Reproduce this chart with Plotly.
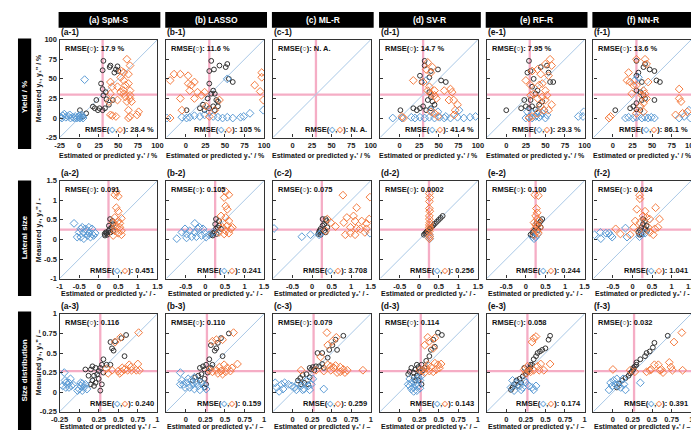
import plotly.graph_objects as go

# ---------------- data ----------------
# Row 1: yield (%)
A1_BLK_X = [31, 40, 49, 30, 28, 39, 45, 47, 50, 22, 30, 34, 31, 35, 38, 43, 20, 24, 26, 30, 33, 1, 5, 9, 17.5]
A1_BLK_Y = [73, 67, 66, 61, 44, 65, 58, 62, 60, 23, 37, 33, 29, 24, 17, 23, 12.5, 10, 12.5, 10, 12.5, 10, 2, 6, 14.6]
A1_BLU_X = [-24, -21, -19, -17, -14, -11, -8, -5, -3, -1, 0, 1, 2, 4, 5, 7, -22, -12, -6, 3]
A1_BLU_Y = [1, 3, 5, 1, 2, 0, 1, 2, 0, 1, 3, 0, 1, 2, 0, 49, 0, 4, 0, 4]
A1_ORG_X = [61, 54, 57, 63, 65, 40, 42, 40, 38, 57, 57, 57, 59, 63, 65, 65, 65, 67, 63, 63, 65, 76, 74, 47, 42.5, 40, 49, 53, 59, 61, 49, 53]
A1_ORG_Y = [75, 60, 58, 56, 67, 46, 40, 31, 21, 48, 35, 31, 42, 44, 35, 29, 25, 21, 10, 0, 2, 8, 4, 2, 3, 4, 40, 33, 27, 21, 23, 52]

B1_BLK_X = [32.5, 30, 36, 43, 51, 53, 55, 60, 30, 35, 32.5, 37, 28, 39, 41, 18, 24, 30, 35, 37, 1, 41, 22]
B1_BLK_Y = [73, 60, 62, 67, 65, 69, 50, 46, 44, 35, 31, 31, 25, 23, 21, 12.5, 10, 12.5, 15, 10, 10, 15, 17]
B1_BLU_X = [-24, -5, 1, 5, 11, 18, 24, 35, 41, 47, 53, 60, 70, 74, 82, 30, 53, 99]
B1_BLU_Y = [0, 1, 0, 1, 3, 2, 4, 2, 1, 0, 1, 0, 1, 2, 6, 8, 50, 10]
B1_ORG_X = [-20, -15, -7, 3, 3, 7, 5, 11, 15, 20, 24, 11, 26, 30, -7, -5, -20, 43, 37, 97, 97, 88, 95, 99]
B1_ORG_Y = [48, 56, 56, 54, 44, 42, 35, 25, 33, 29, 33, 46, 15, 2, 25, 10, 0, 23, 10, 58, 52, 42, 34, 23]

C1_BLK_X, C1_BLK_Y, C1_BLU_X, C1_BLU_Y, C1_ORG_X, C1_ORG_Y = [], [], [], [], [], []

D1_BLK_X = [32, 32, 40, 49, 53, 59, 26, 28, 38, 40, 36, 42, 30, 26, 22, 17.5, 1, 34, 40, 44.6, 38]
D1_BLK_Y = [73, 67, 60, 62, 48, 46, 54, 46, 52, 27, 23, 21, 15, 12.5, 10, 12.5, 10, 10, 12.5, 17, 33]
D1_BLU_X = [-8.75, 3, 15, 19.6, 26, 32, 38, 44.6, 51, 57, 65, 74, 82, 90, 97, 76, 40, 34, 49, 59]
D1_BLU_Y = [0, 0, 1, 0, 1, 0, 1, 0, 1, 0, 0, 1, 0, 1, 2, 10, 10, 48, 8, 2]
D1_ORG_X = [17.5, 30, 34, 36, 40, 42, 38, 36, 40, 44.6, 47, 44.6, 65, 67, 63, 69, 74, 71, 49, 44.6, 40, 5, 3, 69.6, 57]
D1_ORG_Y = [48, 46, 62, 71, 58, 65, 40, 35, 31, 29, 25, 35, 37, 33, 23, 23, 17, 10, 2, 6, 8, 0, 2, 4, 35]

E1_BLK_X = [29, 27, 31, 44, 52, 54, 56, 60, 35, 33, 40, 37.5, 31, 23, 25, 29, 33, 37.5, 19, 0, 42, 46]
E1_BLK_Y = [73, 58, 60, 65, 67, 58, 46, 46, 50, 40, 35, 31, 23, 23, 15, 12.5, 15, 11, 12.5, 10, 17, 21]
E1_BLU_X = [25, 29, 33, 37.5, 42, 44, 46, 50, 48, 40, 33, 27, 52, 99, 98, 92]
E1_BLU_Y = [0, 1, 0, 2, 1, 3, 6, 0, 10, 8, 6, 8, 4, 8, 2, 2]
E1_ORG_X = [56, 50, 58, 54, 44, 40, 33, 25, 31, 35, 42, 46, 50, 52, 46, 40, 44, 48, 40, 33, 29, 54, 58, 50, 31]
E1_ORG_Y = [75, 69, 67, 54, 56, 62, 60, 48, 42, 31, 42, 44, 35, 29, 27, 25, 15, 10, 6, 2, 0, 10, 17, 23, 29]

F1_BLK_X = [30, 41, 39, 47, 53, 55.6, 60, 32.5, 30, 37, 30, 35, 39, 41, 37, 30, 26, 22, 30, 35, 3, 53]
F1_BLK_Y = [73, 69, 65, 62, 60, 48, 46, 58, 54, 46, 35, 33, 29, 25, 23, 19, 15, 12.5, 11, 10, 10, 23]
F1_BLU_X = [16, 20, 26, 30, 37, 41, 45, 49, 53, 84.6, 91, 99, 97, 32.5, 28]
F1_BLU_Y = [0, 1, 0, 1, 0, 1, 0, 1, 0, 0, 2, 0, 10, 52, 48]
F1_ORG_X = [30, 41, 43, 20, 18, 22, 26, 30, 39, 41, 37, 43, 39, 35, 30, -5, -3, 84.6, 84.6, 87, 80, 89, 95, 39, 24, 45]
F1_ORG_Y = [75, 75, 69, 58, 48, 46, 42, 42, 35, 31, 29, 25, 19, 15, 6, 0, 2, 37, 25, 21, 4, 6, 8, 8, 31, 46]

# Row 2: lateral size
A2_BLK_X = [0.16, 0.2, 0.25, 0.29, 0.33, 0.35, 0.29, 0.37, 0.22, 0.18, 0.3, 0.26, 0.37, 0.15]
A2_BLK_Y = [0.1, 0.16, 0.22, 0.27, 0.31, 0.47, 0.52, 0.39, 0.12, 0.18, 0.18, 0.35, 0.22, 0.14]
A2_BLU_X = [-0.63, -0.5, -0.42, -0.34, -0.25, -0.17, -0.46, -0.38, -0.29, -0.21, -0.13, -0.55, -0.38, -0.25, -0.09, -0.29, -0.46, -0.17]
A2_BLU_Y = [0.41, 0.18, 0.31, 0.27, 0.31, 0.27, 0.06, 0.02, 0.1, 0.06, 0.1, 0.06, 0.18, 0.16, 0.16, 0.22, 0.27, 0.14]
A2_ORG_X = [0.41, 0.5, 0.45, 0.45, 0.5, 0.41, 0.5, 0.37, 0.45, 0.54, 0.58, 0.41, 0.5, 0.58, 0.37, 0.41, 0.54, 0.58]
A2_ORG_Y = [1.14, 1.1, 1.22, 0.81, 0.72, 0.56, 0.47, 0.43, 0.35, 0.31, 0.22, 0.22, 0.16, 0.12, 0.1, 0.31, 0.41, 0.54]

B2_BLK_X = [0.19, 0.23, 0.27, 0.31, 0.27, 0.35, 0.35, 0.19, 0.29, 0.4, 0.15, 0.25]
B2_BLK_Y = [0.1, 0.18, 0.27, 0.31, 0.52, 0.47, 0.35, 0.16, 0.14, 0.27, 0.12, 0.39]
B2_BLU_X = [-0.73, -0.6, -0.48, -0.52, -0.27, -0.4, -0.27, -0.19, -0.15, -0.1, -0.23, 0.02, 0.1, -0.02, -0.35, -0.48, -0.06, 0.19]
B2_BLU_Y = [0.02, 0.18, 0.14, 0.27, 0.41, 0.22, 0.18, 0.27, 0.31, 0.1, 0.07, 0.06, 0.12, 0.16, 0.07, 0.04, 0.27, 0.18]
B2_ORG_X = [0.52, 0.6, 0.48, 0.52, 0.56, 0.4, 0.52, 0.6, 0.44, 0.56, 0.65, 0.52, 0.44, 0.35, 0.6, 0.69, 0.48]
B2_ORG_Y = [1.22, 1.14, 1.07, 0.85, 0.77, 0.6, 0.56, 0.47, 0.43, 0.35, 0.27, 0.22, 0.31, 0.18, 0.16, 0.31, 0.14]

C2_BLK_X = [0.18, 0.22, 0.27, 0.31, 0.35, 0.37, 0.27, 0.16, 0.31, 0.39, 0.22, 0.35, 0.19]
C2_BLK_Y = [0.18, 0.27, 0.35, 0.39, 0.52, 0.47, 0.52, 0.14, 0.22, 0.31, 0.12, 0.18, 0.22]
C2_BLU_X = [-0.97, -0.26, -0.04, 1.48, 0.18, 0.22]
C2_BLU_Y = [0.28, 0.07, 0.12, 0.16, 0.12, 0.16]
C2_ORG_X = [0.79, 1.48, 1.14, 0.89, 1.06, 1.1, 1.27, 1.39, 1.46, 0.98, 1.14, 1.23, 1.39, 1.35, 1.1, 0.85, 0.98, 0.81, 0.39, 0.6, 0.35, 0.48]
C2_ORG_Y = [1.13, 1.08, 0.81, 0.56, 0.6, 0.47, 0.47, 0.41, 0.52, 0.31, 0.28, 0.27, 0.27, 0.18, 0.12, 0.12, 0.16, 0.43, 0.52, 0.33, 0.22, 0.43]

D2_BLK_X = [0.12, 0.15, 0.17, 0.19, 0.2, 0.22, 0.24, 0.26, 0.28, 0.3, 0.33, 0.36, 0.4, 0.45, 0.5, 0.55, 0.6]
D2_BLK_Y = [0.12, 0.15, 0.17, 0.19, 0.2, 0.22, 0.24, 0.26, 0.28, 0.3, 0.33, 0.36, 0.4, 0.45, 0.5, 0.55, 0.6]
D2_BLU_X = [0.26, 0.27, 0.26]
D2_BLU_Y = [0.07, 0.02, 0.12]
D2_ORG_X = [0.26, 0.27, 0.26, 0.26, 0.27, 0.26, 0.26, 0.27, 0.26, 0.26, 0.27, 0.26, 0.26, 0.27, 0.26]
D2_ORG_Y = [1.17, 1.07, 0.97, 0.79, 0.72, 0.6, 0.52, 0.43, 0.37, 0.31, 0.27, 0.21, 0.12, 0.07, 0.02]

E2_BLK_X = [0.12, 0.17, 0.21, 0.25, 0.33, 0.38, 0.42, 0.32, 0.38, 0.17, 0.27]
E2_BLK_Y = [0.12, 0.18, 0.22, 0.31, 0.39, 0.47, 0.52, 0.24, 0.31, 0.1, 0.41]
E2_BLU_X = [0.21, 0.17, 0.25, 0.29]
E2_BLU_Y = [0.02, 0.07, 0.06, 0.12]
E2_ORG_X = [0.23, 0.32, 0.27, 0.29, 0.25, 0.29, 0.33, 0.21, 0.29, 0.35, 0.23, 0.29, 0.21, 0.32, 0.25]
E2_ORG_Y = [1.14, 1.12, 0.79, 0.68, 0.6, 0.52, 0.47, 0.43, 0.35, 0.31, 0.27, 0.21, 0.12, 0.16, 0.37]

F2_BLK_X = [0.15, 0.19, 0.23, 0.27, 0.32, 0.36, 0.23, 0.32, 0.27, 0.18, 0.37]
F2_BLK_Y = [0.18, 0.24, 0.31, 0.39, 0.47, 0.35, 0.14, 0.27, 0.52, 0.12, 0.22]
F2_BLU_X = [-0.97, -0.82, -0.81, -0.68, -0.6, -0.56, -0.52, -0.18, -0.14, 0.18, 0.23, 0.32]
F2_BLU_Y = [0.12, 0.18, 0.02, 0.16, 0.16, 0.1, 0.06, 0.29, 0.06, 0.07, 0.12, 0.16]
F2_ORG_X = [0.18, 0.19, 0.59, 0.69, 0.11, 0.32, 0.07, 0.27, 0.36, 0.44, 0.57, 0.53, 0.65, -0.43, -0.31, -0.06, 0.03, 0.19, 0.4, 0.44, 0.15]
F2_ORG_Y = [1.13, 1.04, 0.81, 0.52, 0.77, 0.72, 0.47, 0.6, 0.56, 0.52, 0.27, 0.12, 0.31, 0.27, 0.14, 0.12, 0.31, 0.43, 0.31, 0.18, 0.22]

# Row 3: size distribution
A3_BLK_X = [0.6, 0.54, 0.46, 0.4, 0.42, 0.44, 0.58, 0.31, 0.35, 0.4, 0.29, 0.27, 0.21, 0.17, 0.15, 0.25, 0.31, 0.23, 0.19, 0.12, 0.17, 0.21, 0.19, 0.27, 0.08, 0.25, 0.29, 0.15]
A3_BLK_Y = [0.73, 0.69, 0.65, 0.64, 0.56, 0.53, 0.46, 0.42, 0.35, 0.35, 0.35, 0.31, 0.31, 0.33, 0.29, 0.27, 0.25, 0.23, 0.21, 0.21, 0.15, 0.12, 0.08, 0.02, 0.29, 0.17, 0.1, 0.1]
A3_BLU_X = [-0.19, -0.18, -0.15, -0.17, -0.13, -0.11, -0.21, -0.13, -0.08, 0, 0.02, 0.04, 0.06, 0.08, -0.02, 0.04, 0.1, 0.02, -0.1, -0.17]
A3_BLU_Y = [0.25, 0.15, 0.1, 0.06, 0.12, 0.17, 0.08, 0.06, 0.1, 0.04, 0.08, 0.11, 0.06, 0.1, 0.02, 0.02, 0.04, 0.12, 0.08, 0.12]
A3_ORG_X = [0.76, 0.53, 0.46, 0.35, 0.37, 0.5, 0.54, 0.58, 0.64, 0.66, 0.75, 0.67, 0.62, 0.73, 0.77, 0.52, 0.42, 0.55]
A3_ORG_Y = [0.76, 0.7, 0.64, 0.3, 0.24, 0.27, 0.26, 0.29, 0.35, 0.32, 0.36, 0.28, 0.28, 0.28, 0.28, 0.24, 0.28, 0.31]

B3_BLK_X = [0.55, 0.45, 0.41, 0.32, 0.39, 0.37, 0.47, 0.3, 0.34, 0.26, 0.22, 0.18, 0.24, 0.28, 0.2, 0.16, 0.12, 0.09, 0.18, 0.24, 0.26, 0.24, 0.32]
B3_BLK_Y = [0.75, 0.69, 0.63, 0.6, 0.56, 0.53, 0.46, 0.42, 0.35, 0.35, 0.33, 0.31, 0.29, 0.25, 0.23, 0.21, 0.19, 0.15, 0.15, 0.17, 0.1, 0.06, 0.31]
B3_BLU_X = [-0.07, -0.05, -0.03, 0.01, 0.03, -0.01, 0.05, 0.09, 0.11, 0.14, 0.07, 0.16, 0.2, 0.24, 0.26, 0.18, 0.11, -0.07]
B3_BLU_Y = [0.25, 0.15, 0.1, 0.12, 0.17, 0.06, 0.06, 0.1, 0.04, 0.12, 0.15, 0.08, 0.12, 0.08, 0.04, 0.03, 0.19, 0.1]
B3_ORG_X = [0.61, 0.47, 0.34, 0.39, 0.43, 0.49, 0.53, 0.66, 0.39, 0.45, 0.51, 0.57, 0.59, 0.34, 0.3, 0.41, 0.47]
B3_ORG_Y = [0.76, 0.67, 0.65, 0.67, 0.32, 0.35, 0.31, 0.36, 0.28, 0.27, 0.26, 0.27, 0.31, 0.26, 0.28, 0.24, 0.23]

C3_BLK_X = [0.65, 0.55, 0.51, 0.57, 0.47, 0.38, 0.32, 0.45, 0.3, 0.26, 0.24, 0.22, 0.28, 0.18, 0.13, 0.1, 0.07, 0.22, 0.15, 0.11, 0.2, 0.34, 0.38, 0.4]
C3_BLK_Y = [0.72, 0.67, 0.6, 0.54, 0.54, 0.5, 0.5, 0.44, 0.33, 0.32, 0.29, 0.31, 0.28, 0.23, 0.22, 0.18, 0.15, 0.19, 0.12, 0.1, 0.1, 0.33, 0.36, 0.31]
C3_BLU_X = [-0.22, -0.2, -0.17, -0.14, -0.1, -0.05, -0.01, 0.03, 0.07, 0.11, 0.15, 0.2, 0.22, 0.24, 0.26, 0.4, 0.18, 0.05, 0.13, -0.12]
C3_BLU_Y = [0.12, 0.06, 0.01, 0.1, 0.12, 0.1, 0.08, 0.06, 0.11, 0.08, 0.04, 0.08, 0.03, 0.1, 0.17, 0.04, 0.15, 0.03, 0.03, 0.04]
C3_ORG_X = [0.44, 0.56, 0.51, 0.45, 0.36, 0.45, 0.49, 0.55, 0.61, 0.65, 0.7, 0.57, 0.49, 0.4, 0.9, 0.11, 0.3, 0.61, 0.67, 0.53]
C3_ORG_Y = [0.76, 0.7, 0.65, 0.6, 0.45, 0.35, 0.33, 0.34, 0.32, 0.29, 0.28, 0.25, 0.28, 0.27, 0.28, 0.28, 0.28, 0.26, 0.25, 0.31]

D3_BLK_X = [0.54, 0.49, 0.43, 0.45, 0.4, 0.38, 0.34, 0.28, 0.24, 0.2, 0.15, 0.13, 0.18, 0.22, 0.26, 0.3, 0.18, 0.24, 0.2, 0.28, 0.32, 0.11, 0.22]
D3_BLK_Y = [0.73, 0.76, 0.67, 0.58, 0.54, 0.46, 0.4, 0.35, 0.32, 0.29, 0.31, 0.26, 0.25, 0.21, 0.25, 0.28, 0.19, 0.15, 0.15, 0.1, 0.31, 0.23, 0.35]
D3_BLU_X = [0.13, 0.15, 0.18, 0.2, 0.22, 0.18, 0.24, 0.26, 0.11, 0.15, 0.24, 0.28, 0.13, 0.2, 0.26]
D3_BLU_Y = [0.17, 0.12, 0.06, 0.1, 0.02, 0.01, 0.08, 0.15, 0.1, 0.04, 0.19, 0.21, 0.08, 0.15, 0.05]
D3_ORG_X = [0.36, 0.38, 0.43, 0.45, 0.32, 0.3, 0.34, 0.36, 0.4, 0.45, 0.49, 0.47, 0.43, 0.38, 0.32, 0.26, 0.53, 0.51]
D3_ORG_Y = [0.7, 0.65, 0.56, 0.69, 0.6, 0.28, 0.31, 0.35, 0.32, 0.37, 0.35, 0.29, 0.26, 0.27, 0.25, 0.28, 0.36, 0.31]

E3_BLK_X = [0.56, 0.54, 0.5, 0.46, 0.43, 0.4, 0.38, 0.35, 0.33, 0.31, 0.29, 0.27, 0.25, 0.21, 0.17, 0.13, 0.1, 0.08, 0.06, 0.15, 0.19, 0.23, 0.31]
E3_BLK_Y = [0.72, 0.67, 0.56, 0.54, 0.52, 0.5, 0.46, 0.42, 0.35, 0.32, 0.29, 0.26, 0.23, 0.2, 0.17, 0.15, 0.1, 0.06, 0.03, 0.08, 0.12, 0.31, 0.35]
E3_BLU_X = [0.08, 0.13, 0.17, 0.21, 0.25, 0.29, 0.33, 0.38, 0.35, 0.19, 0.06, 0.1, 0.23]
E3_BLU_Y = [0.15, 0.12, 0.08, 0.06, 0.12, 0.08, 0.06, 0.08, 0.03, 0.03, 0.06, 0.02, 0.15]
E3_ORG_X = [0.35, 0.38, 0.33, 0.56, 0.44, 0.4, 0.27, 0.23, 0.29, 0.35, 0.42, 0.48, 0.25, 0.31]
E3_ORG_Y = [0.69, 0.71, 0.64, 0.36, 0.36, 0.33, 0.33, 0.29, 0.27, 0.28, 0.28, 0.28, 0.24, 0.26]

F3_BLK_X = [0.7, 0.53, 0.51, 0.47, 0.43, 0.41, 0.35, 0.3, 0.28, 0.26, 0.24, 0.22, 0.2, 0.16, 0.12, 0.08, 0.05, 0.3, 0.26]
F3_BLK_Y = [0.72, 0.63, 0.57, 0.52, 0.5, 0.46, 0.42, 0.38, 0.33, 0.29, 0.26, 0.24, 0.21, 0.18, 0.15, 0.11, 0.06, 0.35, 0.31]
F3_BLU_X = [-0.05, -0.03, 0.01, 0.05, 0.03, 0.1, 0.14, 0.16, 0.13, 0.35, 0.07, -0.01]
F3_BLU_Y = [0.03, 0.12, 0.15, 0.17, 0.1, 0.06, 0.1, 0.03, 0.17, 0.12, 0.08, 0.08]
F3_ORG_X = [0.88, 0.78, 0.0, 0.22, 0.43, 0.47, 0.53, 0.58, 0.62, 0.64, 0.6, 0.72, 0.74, 0.76, 0.89, 0.49, 0.28]
F3_ORG_Y = [0.76, 0.64, 0.29, 0.28, 0.26, 0.28, 0.35, 0.35, 0.29, 0.25, 0.28, 0.38, 0.32, 0.28, 0.28, 0.29, 0.26]

# labels / texts
MODELS = ["(a) SpM-S", "(b) LASSO", "(c) ML-R", "(d) SV-R", "(e) RF-R", "(f) NN-R"]
ROW_NAMES = ["Yield / %", "Lateral size", "Size distribution"]
LETTERS = ["a", "b", "c", "d", "e", "f"]
RMSE_TRAIN = [
    ["17.9 %", "11.6 %", "N. A.", "14.7 %", "7.95 %", "13.6 %"],
    ["0.091", "0.105", "0.075", "0.0002", "0.100", "0.024"],
    ["0.116", "0.110", "0.079", "0.114", "0.058", "0.032"],
]
RMSE_TEST = [
    ["28.4 %", "105 %", "N. A.", "41.4 %", "29.3 %", "86.1 %"],
    ["0.451", "0.241", "3.708", "0.256", "0.244", "1.041"],
    ["0.240", "0.159", "0.259", "0.143", "0.174", "0.391"],
]
X_TITLES = ["Estimated or predicted y₁' / %", "Estimated or predicted y₂' / -", "Estimated or predicted y₃' / –"]
Y_TITLES = ["Measured y₁, y₁'' / %", "Measured y₂, y₂'' / -", "Measured y₃, y₃'' / –"]
AX_RANGE = [[-25, 100], [-1, 1.5], [-0.25, 1]]
TICK_VALS = [[-25, 0, 25, 50, 75, 100], [-1, -0.5, 0, 0.5, 1, 1.5], [-0.25, 0, 0.25, 0.5, 0.75, 1]]
TICK_TEXT = [["-25", "0", "25", "50", "75", "100"], ["-1", "-0.5", "0", "0.5", "1", "1.5"],
             ["-0.25", "0", "0.25", "0.5", "0.75", "1"]]
THRESH = [30, 0.25, 0.27]

PANELS = [
    [(A1_BLK_X, A1_BLK_Y, A1_BLU_X, A1_BLU_Y, A1_ORG_X, A1_ORG_Y),
     (B1_BLK_X, B1_BLK_Y, B1_BLU_X, B1_BLU_Y, B1_ORG_X, B1_ORG_Y),
     (C1_BLK_X, C1_BLK_Y, C1_BLU_X, C1_BLU_Y, C1_ORG_X, C1_ORG_Y),
     (D1_BLK_X, D1_BLK_Y, D1_BLU_X, D1_BLU_Y, D1_ORG_X, D1_ORG_Y),
     (E1_BLK_X, E1_BLK_Y, E1_BLU_X, E1_BLU_Y, E1_ORG_X, E1_ORG_Y),
     (F1_BLK_X, F1_BLK_Y, F1_BLU_X, F1_BLU_Y, F1_ORG_X, F1_ORG_Y)],
    [(A2_BLK_X, A2_BLK_Y, A2_BLU_X, A2_BLU_Y, A2_ORG_X, A2_ORG_Y),
     (B2_BLK_X, B2_BLK_Y, B2_BLU_X, B2_BLU_Y, B2_ORG_X, B2_ORG_Y),
     (C2_BLK_X, C2_BLK_Y, C2_BLU_X, C2_BLU_Y, C2_ORG_X, C2_ORG_Y),
     (D2_BLK_X, D2_BLK_Y, D2_BLU_X, D2_BLU_Y, D2_ORG_X, D2_ORG_Y),
     (E2_BLK_X, E2_BLK_Y, E2_BLU_X, E2_BLU_Y, E2_ORG_X, E2_ORG_Y),
     (F2_BLK_X, F2_BLK_Y, F2_BLU_X, F2_BLU_Y, F2_ORG_X, F2_ORG_Y)],
    [(A3_BLK_X, A3_BLK_Y, A3_BLU_X, A3_BLU_Y, A3_ORG_X, A3_ORG_Y),
     (B3_BLK_X, B3_BLK_Y, B3_BLU_X, B3_BLU_Y, B3_ORG_X, B3_ORG_Y),
     (C3_BLK_X, C3_BLK_Y, C3_BLU_X, C3_BLU_Y, C3_ORG_X, C3_ORG_Y),
     (D3_BLK_X, D3_BLK_Y, D3_BLU_X, D3_BLU_Y, D3_ORG_X, D3_ORG_Y),
     (E3_BLK_X, E3_BLK_Y, E3_BLU_X, E3_BLU_Y, E3_ORG_X, E3_ORG_Y),
     (F3_BLK_X, F3_BLK_Y, F3_BLU_X, F3_BLU_Y, F3_ORG_X, F3_ORG_Y)],
]

# ---------------- styling / layout ----------------
W, H = 699, 430
COL_LEFT = [43.5, 152.5, 261.5, 371, 480, 589]
ROW_TOP = [28.3, 172.3, 308.3]
SIZE = 100
FONT = "Liberation Sans, Arial, sans-serif"
BLACK = "#333333"
BLUE = "#5b9bd5"
ORANGE = "#f47b3f"
PINK = "#f5adc5"
DIAG = "#a9c8e6"


def px(x):
    return x / W


def py(y):
    return 1 - y / H


fig = go.Figure()
shapes = []
annotations = []
layout = {}

for r in range(3):
    for c in range(6):
        k = r * 6 + c
        sfx = "" if k == 0 else str(k + 1)
        L = COL_LEFT[c]
        T = ROW_TOP[r]
        tt = list(TICK_TEXT[r])
        if c > 0:
            tt[0] = " "
        common = dict(range=AX_RANGE[r], tickvals=TICK_VALS[r], showgrid=False, zeroline=False,
                      showline=True, mirror=True, linecolor="#333333", linewidth=1.3,
                      ticks="inside", ticklen=3, tickcolor="#333333", tickwidth=1,
                      tickfont=dict(family=FONT, size=7.5, color="#222222", weight="bold"))
        layout["xaxis" + sfx] = dict(common, domain=[px(L), px(L + SIZE)], anchor="y" + sfx,
                                    ticktext=tt)
        layout["yaxis" + sfx] = dict(common, domain=[py(T + SIZE), py(T)], anchor="x" + sfx,
                                    ticktext=TICK_TEXT[r], showticklabels=(c == 0))
        xr = "x" + sfx
        yr = "y" + sfx
        lo, hi = AX_RANGE[r]
        th = THRESH[r]
        shapes.append(dict(type="line", xref=xr, yref=yr, x0=th, x1=th, y0=lo, y1=hi,
                           line=dict(color=PINK, width=2.3), layer="below"))
        shapes.append(dict(type="line", xref=xr, yref=yr, x0=lo, x1=hi, y0=th, y1=th,
                           line=dict(color=PINK, width=2.3), layer="below"))
        shapes.append(dict(type="line", xref=xr, yref=yr, x0=lo, x1=hi, y0=lo, y1=hi,
                           line=dict(color=DIAG, width=1), layer="below"))

        bx, by, ux, uy, ox, oy = PANELS[r][c]
        fig.add_trace(go.Scatter(x=bx, y=by, mode="markers", xaxis=xr, yaxis=yr, showlegend=False,
                                 marker=dict(size=4.8, symbol="circle-open", color=BLACK,
                                             line=dict(width=1))))
        fig.add_trace(go.Scatter(x=ux, y=uy, mode="markers", xaxis=xr, yaxis=yr, showlegend=False,
                                 marker=dict(size=6, symbol="diamond-open", color=BLUE,
                                             line=dict(width=1))))
        fig.add_trace(go.Scatter(x=ox, y=oy, mode="markers", xaxis=xr, yaxis=yr, showlegend=False,
                                 marker=dict(size=6, symbol="diamond-open", color=ORANGE,
                                             line=dict(width=1))))

        tf = dict(family=FONT, size=7.5, color="#111111", weight="bold")
        annotations.append(dict(xref=xr + " domain", yref=yr + " domain", x=0.03, y=0.975,
                                xanchor="left", yanchor="top", showarrow=False, font=tf,
                                text="RMSE(○): " + RMSE_TRAIN[r][c]))
        annotations.append(dict(xref=xr + " domain", yref=yr + " domain", x=0.985, y=0.015,
                                xanchor="right", yanchor="bottom", showarrow=False, font=tf,
                                text="RMSE(<span style='color:%s'>◇</span>,<span style='color:%s'>◇</span>): %s"
                                     % (BLUE, ORANGE, RMSE_TEST[r][c])))
        # panel label
        annotations.append(dict(xref="paper", yref="paper", x=px(L - 1), y=py(T - 8),
                                xanchor="left", yanchor="middle", showarrow=False,
                                font=dict(family=FONT, size=8.5, color="#111111", weight="bold"),
                                text="(%s-%d)" % (LETTERS[c], r + 1)))
        # x title
        xt_y = [147, 288, 424][r]
        annotations.append(dict(xref="paper", yref="paper", x=px(L + SIZE / 2), y=py(xt_y),
                                xanchor="center", yanchor="middle", showarrow=False,
                                font=dict(family=FONT, size=7, color="#111111", weight="bold"),
                                text=X_TITLES[r]))
    # y title
    annotations.append(dict(xref="paper", yref="paper", x=px(22), y=py(ROW_TOP[r] + SIZE / 2),
                            xanchor="center", yanchor="middle", showarrow=False, textangle=-90,
                            font=dict(family=FONT, size=7, color="#111111", weight="bold"),
                            text=Y_TITLES[r]))
    # row label box
    rb = [(27, 140), (172, 290), (306, 430)][r]
    shapes.append(dict(type="rect", xref="paper", yref="paper", x0=px(1), x1=px(14.5),
                       y0=py(rb[1]), y1=py(rb[0]), fillcolor="black", line=dict(width=0)))
    annotations.append(dict(xref="paper", yref="paper", x=px(8), y=py(ROW_TOP[r] + SIZE / 2 + 8),
                            xanchor="center", yanchor="middle", showarrow=False, textangle=-90,
                            font=dict(family=FONT, size=8, color="white", weight="bold"),
                            text=ROW_NAMES[r]))

# column header boxes
for c in range(6):
    L = COL_LEFT[c]
    shapes.append(dict(type="rect", xref="paper", yref="paper", x0=px(L - 1), x1=px(min(L + 103, W)),
                       y0=py(16), y1=py(0), fillcolor="black", line=dict(width=0)))
    annotations.append(dict(xref="paper", yref="paper", x=px(L + 51), y=py(8),
                            xanchor="center", yanchor="middle", showarrow=False,
                            font=dict(family=FONT, size=8.5, color="white", weight="bold"),
                            text=MODELS[c]))

fig.update_layout(width=W, height=H, margin=dict(l=0, r=0, t=0, b=0),
                  paper_bgcolor="white", plot_bgcolor="white",
                  shapes=shapes, annotations=annotations, **layout)
fig.write_html("out.html")
